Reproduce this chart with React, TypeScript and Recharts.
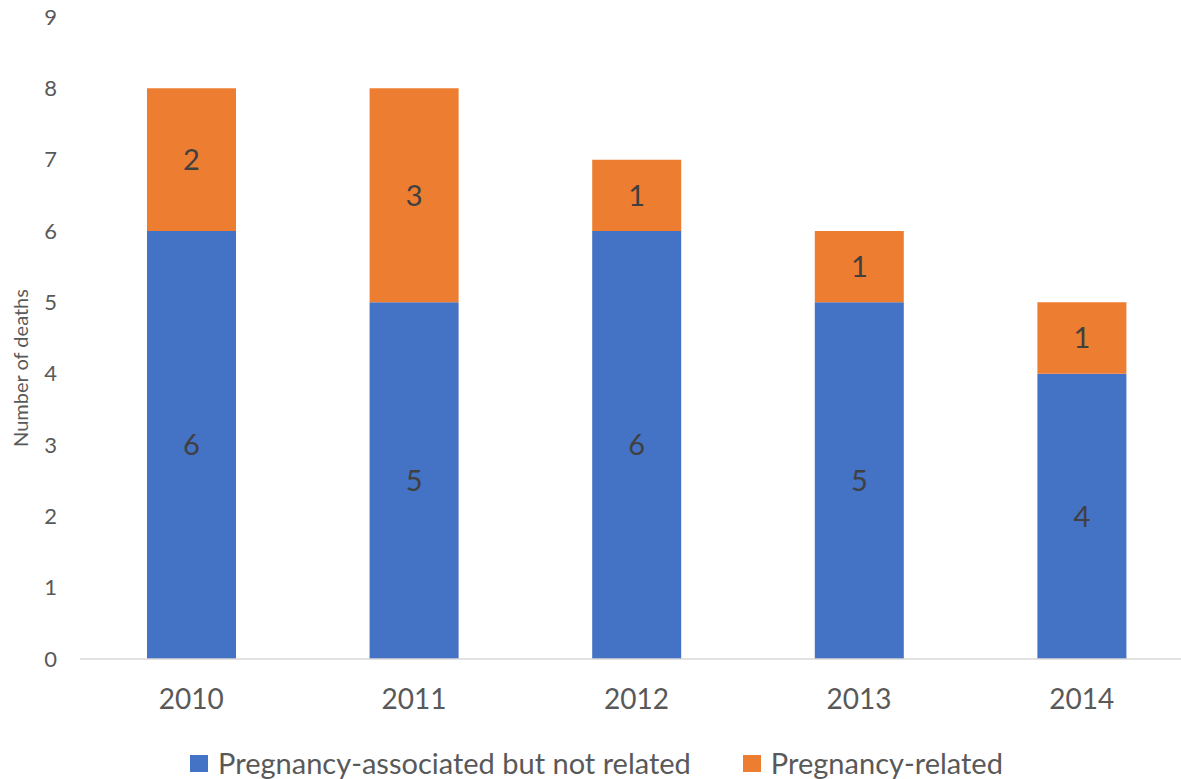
import { Bar, BarChart, LabelList, Legend, XAxis, YAxis } from "recharts";

const years = ["2010", "2011", "2012", "2013", "2014"];
const associatedNotRelated = [6, 5, 6, 5, 4];
const pregnancyRelated = [2, 3, 1, 1, 1];
const yTicks = [0, 1, 2, 3, 4, 5, 6, 7, 8, 9];

const seriesNames = {
  associated: "Pregnancy-associated but not related",
  related: "Pregnancy-related"
};

const data = years.map((year, i) => ({
  year,
  associated: associatedNotRelated[i],
  related: pregnancyRelated[i]
}));

const FONT = "Lato, 'Open Sans', sans-serif";

function LegendContent({ payload }: any) {
  return (
    <div
      style={{ display: "flex", justifyContent: "center", fontFamily: FONT, paddingTop: 9 }}
    >
      {(payload || []).map((item: any, i: number) => (
        <div
          key={item.value}
          style={{ display: "flex", alignItems: "center", marginLeft: i === 0 ? 0 : 52 }}
        >
          <span
            style={{ width: 18, height: 17, background: item.color, display: "inline-block", marginRight: 10 }}
          />
          <span style={{ fontSize: 29, color: "#595959", lineHeight: "30px" }}>{item.value}</span>
        </div>
      ))}
    </div>
  );
}

function YLabel() {
  return (
    <text
      x={20}
      y={368}
      transform="rotate(-90 20 368)"
      textAnchor="middle"
      dominantBaseline="central"
      fill="#595959"
      fontSize={20}
      fontFamily={FONT}
    >
      Number of deaths
    </text>
  );
}

export default function App() {
  return (
    <div
      style={{
        position: "absolute",
        left: 0,
        top: 0,
        width: 1181,
        height: 779,
        overflow: "hidden",
        background: "#fff"
      }}
    >
      <BarChart
        width={1193}
        height={779}
        data={data}
        margin={{ top: 17, right: 0, left: 0, bottom: 0 }}
      >
        <XAxis
          dataKey="year"
          axisLine={{ stroke: "#d9d9d9", strokeWidth: 1.5 }}
          tickLine={false}
          tickMargin={24}
          height={80}
          tick={{ fill: "#595959", fontSize: 28, fontFamily: FONT }}
        />
        <YAxis
          width={80}
          domain={[0, 9]}
          ticks={yTicks}
          interval={0}
          axisLine={false}
          tickLine={false}
          tickMargin={17}
          tick={{ fill: "#595959", fontSize: 22, fontFamily: FONT }}
          label={<YLabel />}
        />
        <Legend verticalAlign="bottom" height={40} content={<LegendContent />} />
        <Bar
          dataKey="associated"
          name={seriesNames.associated}
          stackId="a"
          fill="#4472C4"
          barSize={89}
          isAnimationActive={false}
        >
          <LabelList
            dataKey="associated"
            position="center"
            fill="#404040"
            fontSize={29}
            fontFamily={FONT}
          />
        </Bar>
        <Bar
          dataKey="related"
          name={seriesNames.related}
          stackId="a"
          fill="#ED7D31"
          barSize={89}
          isAnimationActive={false}
        >
          <LabelList
            dataKey="related"
            position="center"
            fill="#404040"
            fontSize={29}
            fontFamily={FONT}
          />
        </Bar>
      </BarChart>
    </div>
  );
}
